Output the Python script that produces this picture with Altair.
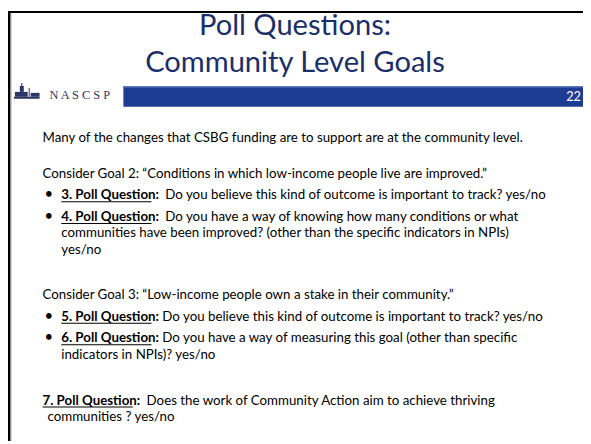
import altair as alt
import pandas as pd

# ---------------- content ----------------
TITLE_LINES = ["Poll Questions:", "Community Level Goals"]
SLIDE_NUMBER = "22"
LOGO_TEXT = "N A S C S P"
INTRO = "Many of the changes that CSBG funding are to support are at the community level."
GOAL2 = "Consider Goal 2: \u201cConditions in which low-income people live are improved.\u201d"
GOAL3 = "Consider Goal 3: \u201cLow-income people own a stake in their community.\u201d"
Q_LABELS = ["3. Poll Question", "4. Poll Question", "5. Poll Question", "6. Poll Question", "7. Poll Question"]
Q_TEXTS = [
    ["Do you believe this kind of outcome is important to track? yes/no"],
    ["Do you have a way of knowing how many conditions or what",
     "communities have been improved?  (other than the specific indicators in NPIs)",
     "yes/no"],
    ["Do you believe this kind of outcome is important to track? yes/no"],
    ["Do you have a way of  measuring this goal (other than specific",
     "indicators in NPIs)? yes/no"],
    ["Does  the work of Community Action aim to achieve thriving",
     "communities ? yes/no"],
]

# ---------------- layout (page pixels) ----------------
W, H, M = 591, 444, 8
FONT = "Lato"
BODY = 13.5
TITLE_COLOR = "#1a2f6a"
BAR_COLOR = "#1f3c95"
NAVY = "#2b3566"

title_base = [32, 70]
title_cx = 299
intro_y, goal2_y, goal3_y = 141, 177, 300
q_first_y = [199, 221, 322, 344, 407]
wrap_dy = 16.5
left_x = 43
bullet_x = 45
bullet_text_x = 62
label_w = 91.5           # underlined part
label_colon_w = 96.5     # label incl. colon
gaps = [9, 9, 6, 6, 9]
bulleted = [True, True, True, True, False]
cont_x_q7 = 48

xs = alt.Scale(domain=[M, W], nice=False, zero=False)
ys = alt.Scale(domain=[M, H], reverse=True, nice=False, zero=False)


def X(f="x"):
    return alt.X(f + ":Q", scale=xs, axis=None)


def Y(f="y"):
    return alt.Y(f + ":Q", scale=ys, axis=None)


def texts(rows, **kw):
    df = pd.DataFrame(rows, columns=["text", "x", "y"])
    base = dict(align="left", baseline="alphabetic", font=FONT, fontSize=BODY, color="#000000")
    base.update(kw)
    return alt.Chart(df).mark_text(**base).encode(x=X(), y=Y(), text="text:N")


def rects(rows, color, **kw):
    df = pd.DataFrame(rows, columns=["x", "x2", "y", "y2"])
    return alt.Chart(df).mark_rect(color=color, **kw).encode(
        x=X(), x2="x2:Q", y=Y(), y2="y2:Q")


layers = []

# borders
layers.append(rects([[M, M + 2.5, M, H]], "#000000"))
layers.append(rects([[M + 2.5, M + 3.5, M + 2.5, H]], "#9a9a9a"))
layers.append(rects([[M, W, M, M + 2]], "#000000"))

# title
layers.append(texts([[t, title_cx, yb] for t, yb in zip(TITLE_LINES, title_base)],
                    align="center", fontSize=29.5, color=TITLE_COLOR))

# blue band + slide number
layers.append(rects([[125, W, 84, 105]], BAR_COLOR))
layers.append(rects([[125, W, 84, 85.5]], "#5f78bd"))
layers.append(texts([[SLIDE_NUMBER, 589, 99.5]], align="right", fontSize=13, color="#ffffff"))

# logo: simple building glyph + wordmark
layers.append(rects([[14, 40, 95, 97],      # base
                     [15, 28, 90, 95],      # left hall
                     [20, 24, 84, 90],      # dome drum
                     [21.5, 22.5, 81, 84],  # spire
                     [29, 30, 86, 95],      # column/tower
                     [31, 40, 91, 95]],     # right hall
                    NAVY))
layers.append(texts([[LOGO_TEXT, 50, 97]], font="Liberation Serif", fontSize=12.5, color=NAVY))

# body
body_rows = [[INTRO, left_x, intro_y], [GOAL2, left_x, goal2_y], [GOAL3, left_x, goal3_y]]
bullet_rows = []
label_rows = []
underline_rows = []
for i, (lab, lines) in enumerate(zip(Q_LABELS, Q_TEXTS)):
    y0 = q_first_y[i]
    lx = bullet_text_x if bulleted[i] else left_x
    if bulleted[i]:
        bullet_rows.append(["\u2022", bullet_x, y0])
    label_rows.append([lab + ":", lx, y0])
    underline_rows.append([lx, lx + label_w, y0 + 2, y0 + 3])
    body_rows.append([lines[0], lx + label_colon_w + gaps[i], y0])
    cx = lx if bulleted[i] else cont_x_q7
    for k, line in enumerate(lines[1:], start=1):
        body_rows.append([line, cx, y0 + k * wrap_dy])

layers.append(texts(body_rows))
layers.append(texts(bullet_rows, fontSize=15))
layers.append(texts(label_rows, fontWeight="bold"))
layers.append(rects(underline_rows, "#000000"))

chart = alt.layer(*layers).properties(
    width=W - M, height=H - M,
    autosize=alt.AutoSizeParams(type="fit", contains="padding"),
    padding=0,
    background="#ffffff",
).configure_view(stroke=None)

chart.save("out.html", embed_options={"renderer": "svg", "actions": False})
